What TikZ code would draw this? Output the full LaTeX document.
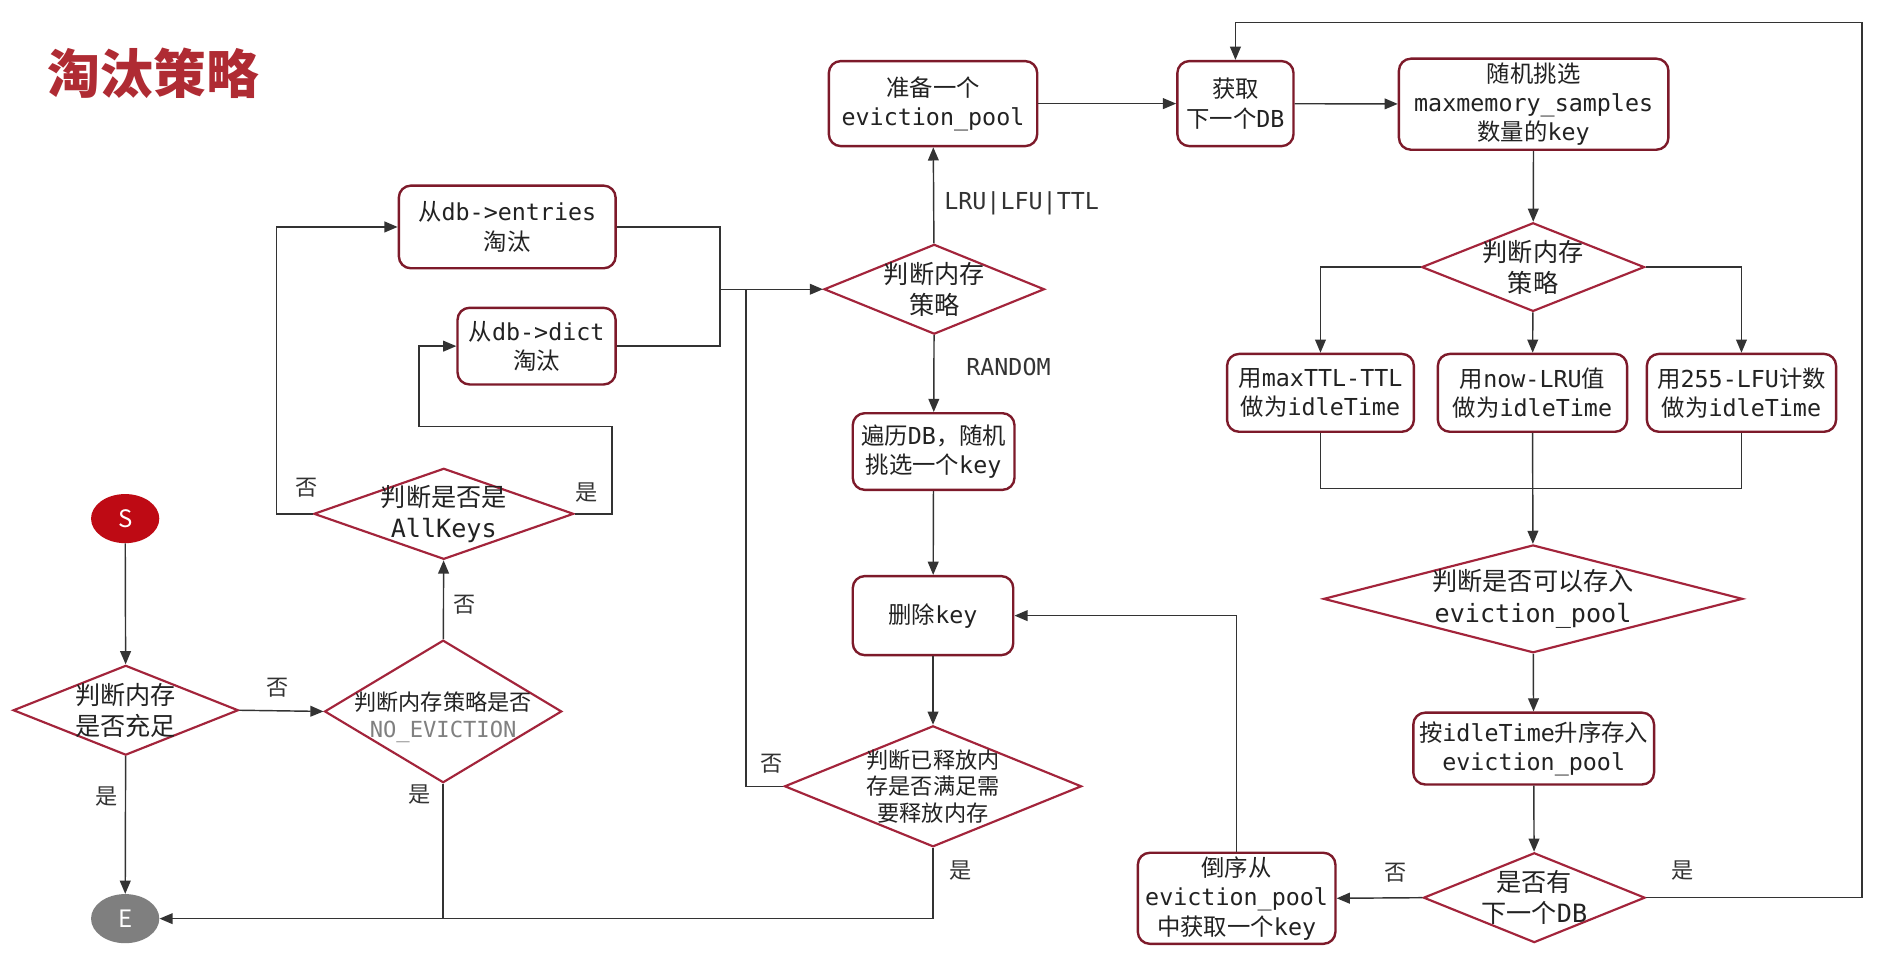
\documentclass[tikz,border=0pt]{standalone}
\usepackage{fontspec}
\setmainfont{Noto Sans CJK SC}
\newfontfamily\monof{DejaVu Sans Mono}
\usetikzlibrary{shapes.geometric,arrows.meta}
\definecolor{boxred}{HTML}{7D1A2A}
\definecolor{diared}{HTML}{A3243B}
\definecolor{linec}{HTML}{333333}
\definecolor{textc}{HTML}{222222}
\definecolor{labc}{HTML}{333333}
\definecolor{sfill}{HTML}{BE0A14}
\definecolor{efill}{HTML}{7F7F7F}
\definecolor{titlec}{HTML}{AF2B33}
\newcommand\txt{\fontsize{19.5}{24.5}\selectfont}
\newcommand\dtxt{\fontsize{21}{26}\selectfont}
\newcommand\stxt{\fontsize{18.5}{22}\selectfont}
\newcommand\mn[1]{{\monof #1}}
\tikzset{
  box/.style={draw=boxred, line width=2pt, rounded corners=10pt, fill=white, align=center, inner sep=0pt, font=\txt, text=textc},
  dia/.style={draw=diared, line width=1.8pt, diamond, inner sep=0pt, fill=white},
  dtext/.style={font=\dtxt, align=center, text=textc, inner sep=0pt},
  conn/.style={draw=linec, line width=1.2pt},
  arr/.style={conn, -{Triangle[length=11pt,width=9pt]}},
  lbl/.style={font=\fontsize{18.5}{22}\selectfont, text=labc, inner sep=0pt},
  term/.style={ellipse, minimum width=57pt, minimum height=41pt, inner sep=0pt, text=white, font=\fontsize{20}{24}\selectfont}
}
\begin{document}
\begin{tikzpicture}[x=1pt,y=-1pt]
\useasboundingbox (0,0) rectangle (1568,808);
\fill[white] (0,0) rectangle (1568,808);

% title
\node[font=\fontsize{44}{50}\selectfont\bfseries, text=titlec, inner sep=0pt] (title) at (128,61) {淘汰策略};

% terminals
\node[term, fill=sfill] (S) at (104.5,433) {S};
\node[term, fill=efill] (E) at (104.5,767) {E};

% diamonds
\node[dia, minimum width=188pt, minimum height=75pt, label={[dtext]center:{判断内存\\是否充足}}] (d1) at (105,593) {};
\node[dia, minimum width=198pt, minimum height=119pt, label={[dtext, font=\stxt, yshift=-5pt]center:{判断内存策略是否\\\textcolor{gray}{\mn{NO\_EVICTION}}}}] (d2) at (370,594) {};
\node[dia, minimum width=217pt, minimum height=76pt, label={[dtext]center:{判断是否是\\\mn{AllKeys}}}] (d3) at (370.5,429) {};
\node[dia, minimum width=184pt, minimum height=75pt, label={[dtext]center:{判断内存\\策略}}] (d5) at (780,241.5) {};
\node[dia, minimum width=248pt, minimum height=101pt, label={[dtext, font=\stxt]center:{判断已释放内\\存是否满足需\\要释放内存}}] (d6) at (779,656.5) {};
\node[dia, minimum width=186pt, minimum height=74pt, label={[dtext]center:{判断内存\\策略}}] (d4) at (1280,223) {};
\node[dia, minimum width=350pt, minimum height=90pt, label={[dtext]center:{判断是否可以存入\\\mn{eviction\_pool}}}] (d7) at (1280,500) {};
\node[dia, minimum width=185pt, minimum height=75pt, label={[dtext]center:{是否有\\下一个\mn{DB}}}] (d8) at (1281,749.5) {};

% boxes
\node[box, minimum width=181pt, minimum height=69pt] (b1) at (423.5,189.5) {从\mn{db->entries}\\淘汰};
\node[box, minimum width=132pt, minimum height=64pt] (b2) at (448,289) {从\mn{db->dict}\\淘汰};
\node[box, minimum width=174pt, minimum height=71pt] (b3) at (779,86.5) {准备一个\\\mn{eviction\_pool}};
\node[box, minimum width=97pt, minimum height=71pt] (b4) at (1031.5,86.5) {获取\\下一个\mn{DB}};
\node[box, minimum width=225pt, minimum height=76pt] (b5) at (1280.5,87) {随机挑选\\\mn{maxmemory\_samples}\\数量的\mn{key}};
\node[box, minimum width=135pt, minimum height=64pt] (b6) at (779.5,377) {遍历\mn{DB}，随机\\挑选一个\mn{key}};
\node[box, minimum width=134pt, minimum height=66pt] (b7) at (779,514) {删除\mn{key}};
\node[box, minimum width=156pt, minimum height=65pt] (b8) at (1102.5,328) {用\mn{maxTTL-TTL}\\做为\mn{idleTime}};
\node[box, minimum width=158pt, minimum height=65pt] (b9) at (1279.5,328) {用\mn{now-LRU}值\\做为\mn{idleTime}};
\node[box, minimum width=158pt, minimum height=65pt] (b10) at (1454,328) {用\mn{255-LFU}计数\\做为\mn{idleTime}};
\node[box, minimum width=201pt, minimum height=60pt] (b11) at (1280.5,625) {按\mn{idleTime}升序存入\\\mn{eviction\_pool}};
\node[box, minimum width=165pt, minimum height=76pt] (b12) at (1032.5,750) {倒序从\\\mn{eviction\_pool}\\中获取一个\mn{key}};

% helper coordinates
\coordinate (p1) at (511,356);
\coordinate (p2) at (350,356);
\coordinate (m1) at (601,241.5);
\coordinate (m2) at (623,241.5);
\coordinate (m3) at (1279.5,408);
\coordinate (p3) at (1554.5,19);
\coordinate (el) at (231,429);

% connectors
\draw[arr] (S) -- (d1);
\draw[arr] (d1) -- (E);
\draw[arr] (d1.east) -- (d2.west);
\draw[arr] (d2) -- (d3);
\draw[arr] (d3.west) -- (el) |- (b1.west);
\draw[arr] (d3.east) -| (p1) -- (p2) |- (b2.west);
\draw[conn] (b1.east) -| (m1);
\draw[conn] (b2.east) -| (m1);
\draw[arr] (m1) -- (d5.west);
\draw[conn] (d6.west) -| (m2);
\draw[arr] (d5) -- (b3);
\draw[arr] (d5) -- (b6);
\draw[arr] (b6) -- (b7);
\draw[arr] (b7) -- (d6);
\draw[arr] (d6.south) |- (E.east);
\draw[conn] (d2.south) -- (d2.south |- E.east);
\draw[arr] (b3) -- (b4);
\draw[arr] (b4) -- (b5);
\draw[arr] (b5) -- (d4);
\draw[arr] (d4.west) -| (b8.north);
\draw[arr] (d4) -- (b9);
\draw[arr] (d4.east) -| (b10.north);
\draw[conn] (b8.south) |- (m3);
\draw[conn] (b10.south) |- (m3);
\draw[arr] (b9) -- (d7);
\draw[arr] (d7) -- (b11);
\draw[arr] (b11) -- (d8);
\draw[arr] (d8.west) -- (b12.east);
\draw[arr] (d8.east) -| (p3) -| (b4.north);
\draw[arr] (b12.north) |- (b7.east);

% labels
\node[lbl] (l1) at (232,574) {否};
\node[lbl] (l2) at (89,665) {是};
\node[lbl] (l3) at (388,505) {否};
\node[lbl] (l4) at (350,663) {是};
\node[lbl] (l5) at (256,407) {否};
\node[lbl] (l6) at (490,411) {是};
\node[lbl, font=\txt] (l7) at (853,169.5) {\mn{LRU|LFU|TTL}};
\node[lbl, font=\txt] (l8) at (842,306) {\mn{RANDOM}};
\node[lbl] (l9) at (644,638) {否};
\node[lbl] (l10) at (802,726.5) {是};
\node[lbl] (l11) at (1165,729) {否};
\node[lbl] (l12) at (1405,727) {是};
\end{tikzpicture}
\end{document}
